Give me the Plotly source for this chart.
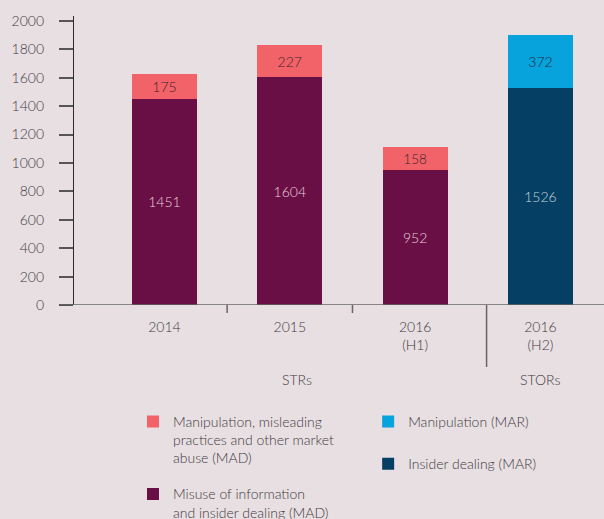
import plotly.graph_objects as go

# ---- data ----
categories = ["2014", "2015", "2016<br>(H1)", "2016<br>(H2)"]
str_categories = categories[:3]
stor_categories = categories[3:]
misuse_mad = [1451, 1604, 952]
manip_mad = [175, 227, 158]
insider_mar = [1526]
manip_mar = [372]
y_ticks = [0, 200, 400, 600, 800, 1000, 1200, 1400, 1600, 1800, 2000]

BG = "#e8dfe3"
FONT = "Lato"
TXT = "#3d3a3c"
W = 300

fig = go.Figure()
fig.add_trace(go.Bar(
    x=str_categories, y=misuse_mad, name="Misuse of information<br>and insider dealing (MAD)",
    marker=dict(color="#6a0f45", line=dict(width=0)),
    text=misuse_mad, textposition="inside", insidetextanchor="middle", textangle=0,
    textfont=dict(color="#e8cfdc", size=14, family=FONT, weight=W), legend="legend2"))
fig.add_trace(go.Bar(
    x=str_categories, y=manip_mad, name="Manipulation, misleading<br>practices and other market<br>abuse (MAD)",
    marker=dict(color="#f26369", line=dict(width=0)),
    text=manip_mad, textposition="inside", insidetextanchor="middle", textangle=0,
    textfont=dict(color="#3a2428", size=14, family=FONT, weight=W), legend="legend5"))
fig.add_trace(go.Bar(
    x=stor_categories, y=insider_mar, name="Insider dealing (MAR)",
    marker=dict(color="#053f63", line=dict(width=0)),
    text=insider_mar, textposition="inside", insidetextanchor="middle", textangle=0,
    textfont=dict(color="#c9d5df", size=14, family=FONT, weight=W), legend="legend4"))
fig.add_trace(go.Bar(
    x=stor_categories, y=manip_mar, name="Manipulation (MAR)",
    marker=dict(color="#06a3dd", line=dict(width=0)),
    text=manip_mar, textposition="inside", insidetextanchor="middle", textangle=0,
    textfont=dict(color="#1b2a3a", size=14, family=FONT, weight=W), legend="legend3"))

leg_common = dict(font=dict(family=FONT, size=14, color=TXT, weight=W), bgcolor="rgba(0,0,0,0)",
                  xanchor="left", yanchor="top", valign="top", itemclick=False,
                  itemdoubleclick=False, visible=True)

fig.update_layout(
    width=604, height=519,
    paper_bgcolor=BG, plot_bgcolor=BG,
    margin=dict(l=74, r=0, t=16, b=214, autoexpand=False),
    barmode="stack", bargap=0.48,
    showlegend=True,
    font=dict(family=FONT, size=14, color=TXT, weight=W),
    uniformtext=dict(mode=False),
    legend=dict(visible=False),
    legend5=dict(x=0.1113, y=-0.349, **leg_common),
    legend2=dict(x=0.1113, y=-0.600, **leg_common),
    legend3=dict(x=0.555, y=-0.349, **leg_common),
    legend4=dict(x=0.555, y=-0.495, **leg_common),
)

fig.update_xaxes(
    type="category", categoryorder="array", categoryarray=categories,
    range=[-0.722, 3.507], showline=False, showgrid=False, zeroline=False,
    ticks="", ticklabelstandoff=12, automargin=False,
    tickfont=dict(family=FONT, size=14, color=TXT, weight=W),
    fixedrange=True)
fig.update_yaxes(
    range=[0, 2035], tickvals=y_ticks, showgrid=False, zeroline=False,
    showline=True, linecolor="#2a2a2a", linewidth=1.3, automargin=False,
    ticks="outside", ticklen=14, tickwidth=1.5, tickcolor="#555",
    ticklabelstandoff=12, tickfont=dict(family=FONT, size=14, color=TXT, weight=W),
    fixedrange=True)

# x-axis baseline extending left of the y-axis
fig.add_shape(type="line", xref="paper", yref="y", x0=-14/530, x1=1, y0=0, y1=0,
              line=dict(color="#666", width=1.5), layer="above")
# short separators between STR years
for xv in [0.5, 1.5]:
    fig.add_shape(type="line", xref="x", yref="paper", x0=xv, x1=xv, y0=0, y1=-8/289,
                  line=dict(color="#666", width=1.5))
# divider between STRs and STORs
fig.add_shape(type="line", xref="x", yref="paper", x0=2.57, x1=2.57, y0=0, y1=-62/289,
              line=dict(color="#666", width=1.5))

# group labels
for label, xv in [("STRs", 1.06), ("STORs", 3.0)]:
    fig.add_annotation(text=label, x=xv, xref="x", y=-74/289, yref="paper",
                       showarrow=False, yanchor="middle",
                       font=dict(family=FONT, size=14, color=TXT, weight=W))

fig.write_html("out.html", config={"displayModeBar": False},
               post_script="document.body.style.margin='0';")
